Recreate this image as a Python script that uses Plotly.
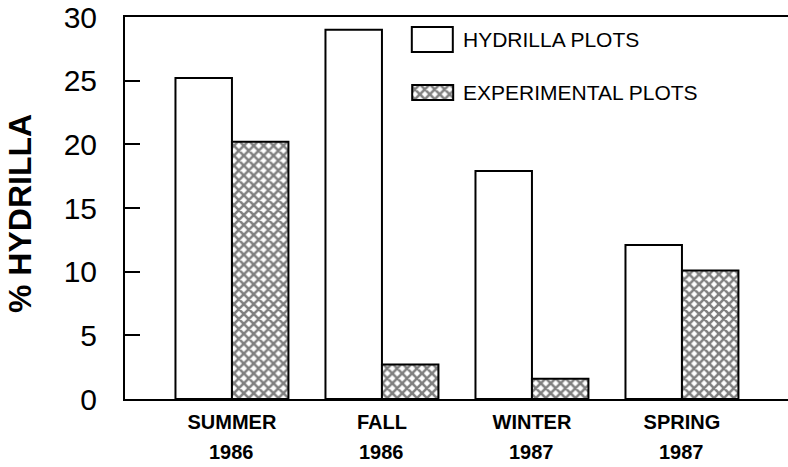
import plotly.graph_objects as go

seasons = ["SUMMER", "FALL", "WINTER", "SPRING"]
years = ["1986", "1986", "1987", "1987"]
hydrilla_plots = [25.2, 29.0, 17.9, 12.1]
experimental_plots = [20.2, 2.7, 1.6, 10.1]
y_ticks = [0, 5, 10, 15, 20, 25, 30]

FONT = "Liberation Sans, Arial, Helvetica, sans-serif"
W, H = 788, 467
L, R, T, B = 125, 0, 17, 68
PW, PH = W - L - R, H - T - B

def px_x(p):
    return (p - L) / PW

def px_y(p):
    return (H - B - p) / PH

xs = list(range(len(seasons)))
hatch = dict(shape="x", fgcolor="black", bgcolor="white", size=7, solidity=0.6)

fig = go.Figure()
fig.add_trace(go.Bar(
    x=xs, y=hydrilla_plots, name="HYDRILLA PLOTS",
    marker=dict(color="white", line=dict(color="black", width=2)),
    showlegend=False,
))
fig.add_trace(go.Bar(
    x=xs, y=experimental_plots, name="EXPERIMENTAL PLOTS",
    marker=dict(color="white", line=dict(color="black", width=2), pattern=hatch),
    showlegend=False,
))

# legend swatches drawn on an overlay axis (pixel units)
fig.add_trace(go.Bar(
    x=[20.5], y=[25], base=[48], width=[41], xaxis="x2", yaxis="y2",
    marker=dict(color="white", line=dict(color="black", width=2)),
    showlegend=False, hoverinfo="skip",
))
fig.add_trace(go.Bar(
    x=[20.5], y=[15], base=[0], width=[41], xaxis="x2", yaxis="y2",
    marker=dict(color="white", line=dict(color="black", width=2), pattern=hatch),
    showlegend=False, hoverinfo="skip",
))

fig.update_layout(
    width=W, height=H,
    margin=dict(l=L, r=R, t=T, b=B, autoexpand=False),
    paper_bgcolor="white", plot_bgcolor="white",
    barmode="group", bargap=0.247, bargroupgap=0,
    font=dict(family=FONT, color="black"),
    xaxis=dict(
        range=[-0.713, 3.707], tickvals=xs, ticktext=seasons,
        showline=True, linecolor="black", linewidth=2, mirror=True,
        ticks="", showgrid=False, zeroline=False, automargin=False,
        tickfont=dict(family=FONT, size=20, weight="bold", color="black"),
        ticklabelstandoff=4,
    ),
    yaxis=dict(
        range=[0, 30], tickvals=y_ticks,
        showline=True, linecolor="black", linewidth=2,
        ticks="inside", ticklen=15, tickwidth=2, tickcolor="black",
        showgrid=False, zeroline=False, automargin=False,
        tickfont=dict(family=FONT, size=30, color="black"),
        ticklabelstandoff=20,
    ),
    xaxis2=dict(domain=[px_x(410), px_x(455)], range=[-2, 43], anchor="y2",
                visible=False, fixedrange=True, automargin=False),
    yaxis2=dict(domain=[px_y(102), px_y(25)], range=[-2, 75], anchor="x2",
                visible=False, fixedrange=True, automargin=False),
)

annotations = []
for i, yr in enumerate(years):
    annotations.append(dict(
        x=i, xref="x", y=px_y(452), yref="paper", text=yr, showarrow=False,
        xanchor="center", yanchor="middle",
        font=dict(family=FONT, size=20, weight="bold", color="black"),
    ))
annotations.append(dict(
    x=px_x(20), y=px_y(214), xref="paper", yref="paper", text="% HYDRILLA",
    textangle=-90, showarrow=False, xanchor="center", yanchor="middle",
    font=dict(family=FONT, size=32, weight="bold", color="black"),
))
annotations.append(dict(
    x=px_x(461), y=px_y(40), xref="paper", yref="paper", text="HYDRILLA PLOTS",
    showarrow=False, xanchor="left", yanchor="middle",
    font=dict(family=FONT, size=21, color="black"),
))
annotations.append(dict(
    x=px_x(461), y=px_y(92), xref="paper", yref="paper", text="EXPERIMENTAL PLOTS",
    showarrow=False, xanchor="left", yanchor="middle",
    font=dict(family=FONT, size=21, color="black"),
))
fig.update_layout(annotations=annotations)

fig.write_html(
    "out.html",
    config={"displayModeBar": False},
    post_script="document.body.style.margin='0';document.body.style.overflow='hidden';",
)
